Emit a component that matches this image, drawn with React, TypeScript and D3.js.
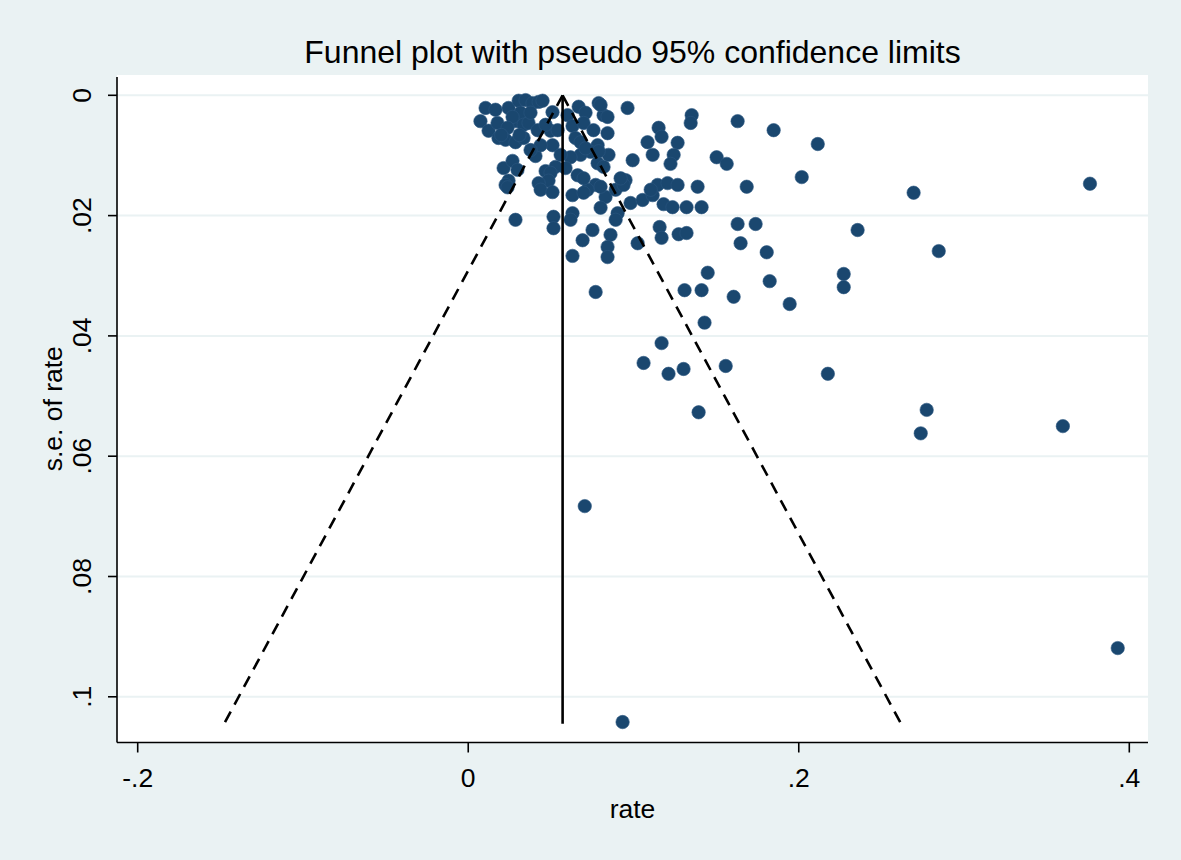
import React from 'react';
import { scaleLinear, line } from 'd3';

// study estimates
const rate = [
  0.0105, 0.0074, 0.0123, 0.0177, 0.0183, 0.0244, 0.0305, 0.0347, 0.0389, 0.0426,
  0.0450, 0.0286, 0.0317, 0.0268, 0.0335, 0.0238, 0.0226, 0.0286, 0.0335, 0.0365,
  0.0420, 0.0510, 0.0498, 0.0510, 0.0541, 0.0407, 0.0214, 0.0268, 0.0298, 0.0244,
  0.0226, 0.0601, 0.0631, 0.0649, 0.0668, 0.0710, 0.0698, 0.0789, 0.0819, 0.0964,
  0.0758, 0.0843, 0.0680, 0.0783, 0.0849, 0.0740, 0.0680, 0.0619, 0.0559, 0.0662,
  0.0589, 0.0468, 0.0528, 0.0498, 0.0486, 0.0426, 0.0783, 0.0771, 0.0722, 0.0831,
  0.0892, 0.0952, 0.0995, 0.1085, 0.1152, 0.1170, 0.1116, 0.1267, 0.1243, 0.1224,
  0.1352, 0.1346, 0.1630, 0.1848, 0.1503, 0.1564, 0.2115, 0.2018, 0.0438, 0.0510,
  0.0631, 0.0801, 0.1146, 0.1206, 0.1267, 0.1388, 0.1685, 0.2695, 0.0982, 0.1055,
  0.1116, 0.1182, 0.1236, 0.1321, 0.1412, 0.0904, 0.0892, 0.0801, 0.0286, 0.0516,
  0.0516, 0.0631, 0.0619, 0.0752, 0.0692, 0.0861, 0.0843, 0.0843, 0.1025, 0.1158,
  0.1170, 0.1273, 0.1321, 0.1630, 0.1739, 0.2356, 0.1648, 0.1806, 0.2847, 0.0631,
  0.1449, 0.1824, 0.2272, 0.2272, 0.1309, 0.1412, 0.1606, 0.1945, 0.0771, 0.1430,
  0.1170, 0.1061, 0.1303, 0.1212, 0.1558, 0.2176, 0.1394, 0.2774, 0.2738, 0.3598,
  0.3762, 0.3930, 0.0705, 0.0934, 0.0843, 0.0801, 0.0819, 0.0238, 0.0698, 0.1104,
  0.0940, 0.0698, 0.0922, 0.0710, 0.0789, 0.0377, 0.0468, 0.0165, 0.0438, 0.0377,
  0.0200, 0.0310,
];

const se = [
  0.0021, 0.0043, 0.0059, 0.0046, 0.0071, 0.0021, 0.0009, 0.0008, 0.0013, 0.0011,
  0.0009, 0.0043, 0.0029, 0.0036, 0.0049, 0.0054, 0.0074, 0.0078, 0.0071, 0.0046,
  0.0058, 0.0028, 0.0059, 0.0083, 0.0058, 0.0101, 0.0121, 0.0109, 0.0124, 0.0142,
  0.0149, 0.0033, 0.0051, 0.0071, 0.0019, 0.0029, 0.0046, 0.0013, 0.0033, 0.0021,
  0.0058, 0.0063, 0.0078, 0.0083, 0.0099, 0.0094, 0.0099, 0.0103, 0.0099, 0.0133,
  0.0121, 0.0126, 0.0119, 0.0129, 0.0142, 0.0146, 0.0113, 0.0149, 0.0157, 0.0169,
  0.0157, 0.0141, 0.0108, 0.0078, 0.0054, 0.0069, 0.0099, 0.0079, 0.0099, 0.0114,
  0.0033, 0.0046, 0.0043, 0.0058, 0.0103, 0.0114, 0.0081, 0.0136, 0.0157, 0.0161,
  0.0166, 0.0152, 0.0149, 0.0146, 0.0149, 0.0152, 0.0152, 0.0162, 0.0179, 0.0174,
  0.0166, 0.0181, 0.0186, 0.0186, 0.0186, 0.0196, 0.0207, 0.0187, 0.0207, 0.0202,
  0.0221, 0.0196, 0.0207, 0.0224, 0.0241, 0.0232, 0.0252, 0.0269, 0.0246, 0.0219,
  0.0237, 0.0231, 0.0229, 0.0214, 0.0214, 0.0224, 0.0246, 0.0261, 0.0259, 0.0267,
  0.0295, 0.0309, 0.0297, 0.0319, 0.0324, 0.0324, 0.0335, 0.0347, 0.0327, 0.0378,
  0.0412, 0.0445, 0.0455, 0.0463, 0.0450, 0.0463, 0.0527, 0.0523, 0.0562, 0.0550,
  0.0147, 0.0919, 0.0683, 0.1042, 0.0036, 0.0016, 0.0119, 0.0153, 0.0162, 0.0157,
  0.0149, 0.0138, 0.0138, 0.0088, 0.0093, 0.0029, 0.0049, 0.0024, 0.0083, 0.0091,
  0.0066, 0.0066,
];

const pooled = 0.0571;
const seMax = 0.1045;
const xTicks = [-0.2, 0, 0.2, 0.4];
const yTicks = [0, 0.02, 0.04, 0.06, 0.08, 0.1];

const fmt = (v: number) => (v === 0 ? '0' : String(v).replace('0.', '.'));

const W = 1181;
const H = 860;
const left = 117;
const right = 1148;
const top = 75;
const bottom = 742.5;
const font = 'Arial, "Liberation Sans", sans-serif';

export default function App() {
  const x = scaleLinear().domain([-0.2, 0.4]).range([137.7, 1129.3]);
  const y = scaleLinear().domain([0, 0.1]).range([95.3, 696.8]);

  const path = line<[number, number]>()
    .x(d => x(d[0]))
    .y(d => y(d[1]));

  const z = 1.96;
  const lower: [number, number][] = [[pooled, 0], [pooled - z * seMax, seMax]];
  const upper: [number, number][] = [[pooled, 0], [pooled + z * seMax, seMax]];
  const mid: [number, number][] = [[pooled, 0], [pooled, seMax]];

  return (
    <svg
      width={W}
      height={H}
      style={{ position: 'fixed', left: 0, top: 0, display: 'block' }}
      fontFamily={font}
    >
      <rect width={W} height={H} fill="#eaf2f3" />
      <rect x={left} y={top} width={right - left} height={bottom - top} fill="#ffffff" />

      {/* gridlines */}
      {yTicks.map(t => (
        <line key={'g' + t} x1={left} x2={right} y1={y(t)} y2={y(t)} stroke="#eaf2f3" strokeWidth={2} />
      ))}

      {/* points */}
      {rate.map((r, i) => (
        <circle key={i} cx={x(r)} cy={y(se[i])} r={6.7} fill="#1a476f" stroke="#2a5580" strokeWidth={0.6} />
      ))}

      {/* funnel */}
      <path d={path(lower) || ''} fill="none" stroke="#000" strokeWidth={2.6} strokeDasharray="12 8" />
      <path d={path(upper) || ''} fill="none" stroke="#000" strokeWidth={2.6} strokeDasharray="12 8" />
      <path d={path(mid) || ''} fill="none" stroke="#000" strokeWidth={2.6} />

      {/* axes */}
      <line x1={left} x2={left} y1={top + 2} y2={bottom} stroke="#000" strokeWidth={1.6} />
      <line x1={left} x2={right} y1={bottom} y2={bottom} stroke="#000" strokeWidth={1.6} />
      {yTicks.map(t => (
        <g key={'y' + t}>
          <line x1={left - 9} x2={left} y1={y(t)} y2={y(t)} stroke="#000" strokeWidth={1.6} />
          <text
            transform={`translate(91,${y(t)}) rotate(-90)`}
            textAnchor="middle"
            fontSize={26.5}
            fill="#000"
          >
            {fmt(t)}
          </text>
        </g>
      ))}
      {xTicks.map(t => (
        <g key={'x' + t}>
          <line x1={x(t)} x2={x(t)} y1={bottom} y2={bottom + 10} stroke="#000" strokeWidth={1.6} />
          <text x={x(t)} y={787} textAnchor="middle" fontSize={26.5} fill="#000">
            {fmt(t)}
          </text>
        </g>
      ))}

      <text x={(left + right) / 2} y={818} textAnchor="middle" fontSize={26.5} fill="#000">
        rate
      </text>
      <text
        transform={`translate(62,${(top + bottom) / 2}) rotate(-90)`}
        textAnchor="middle"
        fontSize={26.5}
        fill="#000"
      >
        s.e. of rate
      </text>
      <text x={(left + right) / 2} y={63} textAnchor="middle" fontSize={32} fill="#000">
        Funnel plot with pseudo 95% confidence limits
      </text>
    </svg>
  );
}
